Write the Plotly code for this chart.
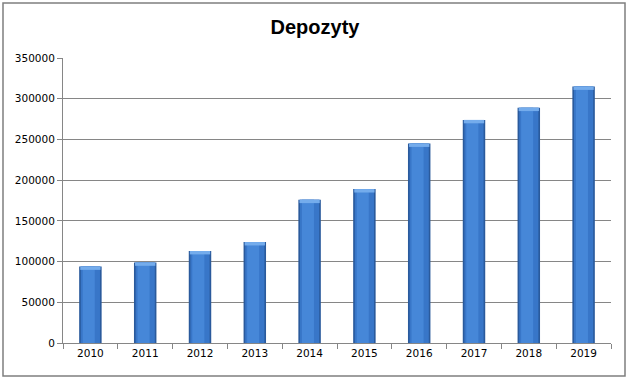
import plotly.graph_objects as go

years = ["2010", "2011", "2012", "2013", "2014", "2015", "2016", "2017", "2018", "2019"]
deposits = [94000, 99000, 113000, 124000, 176000, 189000, 245000, 274000, 289000, 315000]
title_text = "Depozyty"
y_ticks = [0, 50000, 100000, 150000, 200000, 250000, 300000, 350000]

cap = 4200  # height of the bevel cap in data units (style)

fig = go.Figure()
# layered bars to imitate the bevelled gradient of the original
fig.add_trace(go.Bar(x=years, y=deposits, width=0.41, marker=dict(color="#2a5a9c", line=dict(width=0))))
fig.add_trace(go.Bar(x=years, y=deposits, width=0.35, marker=dict(color="#3876c8", line=dict(width=0))))
fig.add_trace(go.Bar(x=years, y=deposits, width=0.22, offset=-0.14,
                     marker=dict(color="#4687d8", line=dict(width=0))))
fig.add_trace(go.Bar(x=years, y=[cap] * len(years), base=[v - cap for v in deposits], width=0.37,
                     marker=dict(color="#74acec", line=dict(width=0))))

grid = "#868686"
fig.update_layout(
    width=630, height=380,
    barmode="overlay",
    showlegend=False,
    paper_bgcolor="white", plot_bgcolor="white",
    margin=dict(l=63, r=19, t=58, b=37, autoexpand=False),
    title=dict(text=title_text, x=0.5, xanchor="center", y=0.93, yanchor="middle",
               font=dict(family="Liberation Sans", size=20, color="black", weight="bold")),
    font=dict(family="DejaVu Sans", size=10.5, color="black"),
    xaxis=dict(type="category", showgrid=False, showline=True, linecolor=grid, linewidth=1,
               ticks="outside", tickson="boundaries", ticklen=5, tickcolor=grid,
               tickfont=dict(family="DejaVu Sans", size=10.5)),
    yaxis=dict(range=[0, 350000], tickvals=y_ticks, tickformat="d", showgrid=True,
               gridcolor=grid, gridwidth=1, showline=True, linecolor=grid, linewidth=1,
               ticks="outside", ticklen=5, tickcolor=grid, zeroline=False,
               tickfont=dict(family="DejaVu Sans", size=10.5)),
    shapes=[dict(type="rect", xref="paper", yref="paper",
                 x0=(3 - 63) / 548, x1=(625 - 63) / 548,
                 y0=(343 - 376) / 285, y1=(343 - 3) / 285,
                 line=dict(color="#7f7f7f", width=1.5), fillcolor="rgba(0,0,0,0)")],
)

fig.write_html("out.html", config={"displayModeBar": False},
               post_script="document.body.style.margin='0';document.body.style.overflow='hidden';")
